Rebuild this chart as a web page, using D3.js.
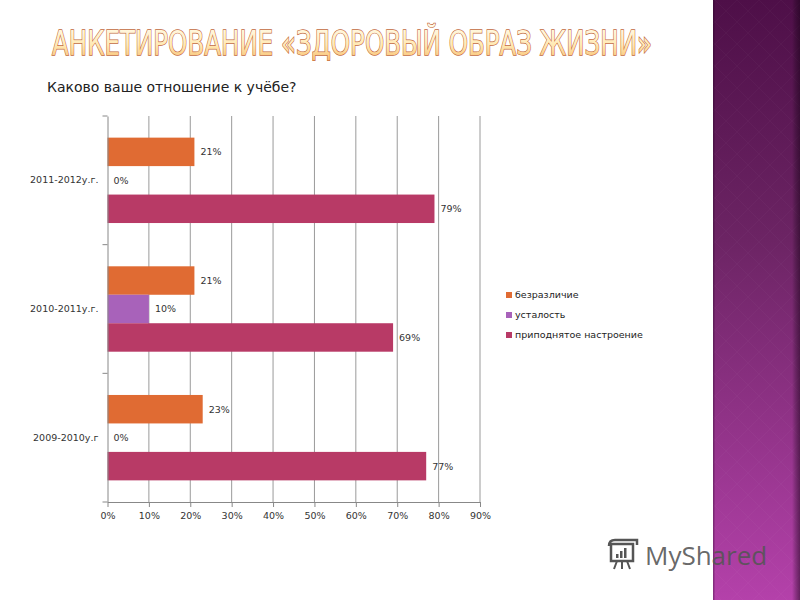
<!DOCTYPE html>
<html><head><meta charset="utf-8">
<script src="https://cdn.jsdelivr.net/npm/d3@7"></script>
<style>body{margin:0;background:#fff}svg{display:block}</style>
</head><body>
<script>
const categories = ["2011-2012у.г.", "2010-2011у.г.", "2009-2010у.г"];
const seriesNames = ["безразличие", "усталость", "приподнятое настроение"];
const seriesColors = ["#E06B33", "#A862BA", "#B83A66"];
const indifference = [21, 21, 23];
const tiredness = [0, 10, 0];
const elevated = [79, 69, 77];
const xTicks = [0, 10, 20, 30, 40, 50, 60, 70, 80, 90];
const titleText = "АНКЕТИРОВАНИЕ «ЗДОРОВЫЙ ОБРАЗ ЖИЗНИ»";
const subtitleText = "Каково ваше отношение  к учёбе?";

const W = 800, H = 600;
const svg = d3.select("body").append("svg").attr("width", W).attr("height", H);
const defs = svg.append("defs");

// right decorative panel
const pg = defs.append("linearGradient").attr("id", "panel").attr("x1", 0).attr("y1", 0).attr("x2", 0).attr("y2", 1);
pg.append("stop").attr("offset", "0%").attr("stop-color", "#4e0f48");
pg.append("stop").attr("offset", "40%").attr("stop-color", "#6c2464");
pg.append("stop").attr("offset", "100%").attr("stop-color", "#b441aa");
const pat = defs.append("pattern").attr("id", "diam").attr("width", 22).attr("height", 22).attr("patternUnits", "userSpaceOnUse");
pat.append("path").attr("d", "M11 0 L22 11 L11 22 L0 11 Z").attr("fill", "none").attr("stroke", "rgba(255,255,255,0.025)").attr("stroke-width", 1);
svg.append("rect").attr("x", 713).attr("y", 0).attr("width", 87).attr("height", H).attr("fill", "url(#panel)");
svg.append("rect").attr("x", 713).attr("y", 0).attr("width", 87).attr("height", H).attr("fill", "url(#diam)");
const eg = defs.append("linearGradient").attr("id", "edge").attr("x1", 0).attr("x2", 1);
eg.append("stop").attr("offset", "0%").attr("stop-color", "rgba(0,0,0,0)");
eg.append("stop").attr("offset", "100%").attr("stop-color", "rgba(20,0,20,0.5)");
svg.append("rect").attr("x", 792).attr("y", 0).attr("width", 8).attr("height", H).attr("fill", "url(#edge)");
svg.append("rect").attr("x", 713).attr("y", 0).attr("width", 1.5).attr("height", H).attr("fill", "rgba(30,0,30,0.3)");

// title
const tg = defs.append("linearGradient").attr("id", "tfill").attr("x1", 0).attr("y1", 0).attr("x2", 0).attr("y2", 1);
tg.append("stop").attr("offset", "0%").attr("stop-color", "#fffdf0");
tg.append("stop").attr("offset", "55%").attr("stop-color", "#ffe9b4");
tg.append("stop").attr("offset", "100%").attr("stop-color", "#f7b866");
svg.append("text").attr("x", 52).attr("y", 55).text(titleText)
  .attr("font-family", "'DejaVu Sans Condensed', 'DejaVu Sans', sans-serif").attr("font-size", 34)
  .attr("textLength", 600).attr("lengthAdjust", "spacingAndGlyphs")
  .attr("fill", "url(#tfill)").attr("stroke", "#c2683c").attr("stroke-width", 1.3)
  .attr("paint-order", "stroke");
svg.append("text").attr("x", 47).attr("y", 92).text(subtitleText)
  .attr("font-family", "'DejaVu Sans', sans-serif").attr("font-size", 14).attr("fill", "#222");

// chart
const pLeft = 107.5, pRight = 480, pTop = 116, pBottom = 502;
const x = d3.scaleLinear().domain([0, 90]).range([pLeft, pRight]);
const y = d3.scaleBand().domain(categories).range([pTop, pBottom]).paddingInner(0).paddingOuter(0);
const data = categories.map((c, i) => ({ cat: c, vals: [indifference[i], tiredness[i], elevated[i]] }));
const yIn = d3.scaleBand().domain(d3.range(3)).range([0, y.bandwidth()]).paddingOuter(0.76).paddingInner(0);

const g = svg.append("g").attr("font-family", "'DejaVu Sans', sans-serif");

// gridlines
g.append("g").selectAll("line").data(xTicks.slice(1)).join("line")
  .attr("x1", d => x(d)).attr("x2", d => x(d)).attr("y1", pTop).attr("y2", pBottom)
  .attr("stroke", "#9a9a9a").attr("stroke-width", 1);

// bars
const grp = g.append("g").selectAll("g").data(data).join("g").attr("transform", d => `translate(0,${y(d.cat)})`);
grp.selectAll("rect").data(d => d.vals).join("rect")
  .attr("x", x(0)).attr("y", (v, j) => yIn(j)).attr("height", yIn.bandwidth())
  .attr("width", v => x(v) - x(0)).attr("fill", (v, j) => seriesColors[j]);
grp.selectAll("text").data(d => d.vals).join("text")
  .attr("x", v => x(v) + 6).attr("y", (v, j) => yIn(j) + yIn.bandwidth() / 2 + 3.5)
  .text(v => v + "%").attr("font-size", 9.5).attr("fill", "#333");

// x axis
const xAxis = d3.axisBottom(x).tickValues(xTicks).tickFormat(d => d + "%").tickSize(5).tickSizeOuter(0);
const xa = g.append("g").attr("transform", `translate(0,${pBottom})`).call(xAxis);
xa.select(".domain").attr("stroke", "#888");
xa.selectAll(".tick line").attr("stroke", "#888");
xa.selectAll(".tick text").attr("font-size", 9.5).attr("fill", "#333").attr("dy", "0.95em")
  .attr("font-family", "'DejaVu Sans', sans-serif");

// y axis
const yAxis = d3.axisLeft(y).tickSize(0).tickPadding(9);
const ya = g.append("g").attr("transform", `translate(${pLeft},0)`).call(yAxis);
ya.select(".domain").attr("stroke", "#888");
ya.selectAll(".tick text").attr("font-size", 9.5).attr("fill", "#333")
  .attr("font-family", "'DejaVu Sans', sans-serif");
const bounds = [pTop, ...categories.map(c => y(c) + y.bandwidth())];
g.append("g").selectAll("line").data(bounds).join("line")
  .attr("x1", pLeft - 5).attr("x2", pLeft).attr("y1", d => d).attr("y2", d => d).attr("stroke", "#888");

// legend
const lg = g.append("g").attr("transform", "translate(506,298)");
const li = lg.selectAll("g").data(seriesNames).join("g").attr("transform", (d, i) => `translate(0,${i * 20})`);
li.append("rect").attr("x", 0).attr("y", -6).attr("width", 6).attr("height", 6).attr("fill", (d, i) => seriesColors[i]);
li.append("text").attr("x", 9).attr("y", 0).text(d => d).attr("font-size", 9.5).attr("fill", "#222");

// watermark logo
const logo = svg.append("g").attr("transform", "translate(607,538)");
logo.append("rect").attr("x", 4).attr("y", 6).attr("width", 22).attr("height", 17).attr("fill", "none").attr("stroke", "#555").attr("stroke-width", 2.5);
logo.append("path").attr("d", "M2 8 Q2 2 8 2 L30 2 L30 7").attr("fill", "none").attr("stroke", "#555").attr("stroke-width", 2.5);
logo.selectAll(".b").data([4, 7, 10]).join("rect").attr("x", (d, i) => 9 + i * 4).attr("y", d => 20 - d).attr("width", 2.5).attr("height", d => d).attr("fill", "#555");
logo.append("path").attr("d", "M10 23 L7 31 M15 23 L15 31 M20 23 L23 31").attr("stroke", "#555").attr("stroke-width", 2);
logo.append("text").attr("x", 38).attr("y", 27).text("MyShared").attr("font-family", "'Open Sans', sans-serif").attr("font-size", 26).attr("fill", "#555").attr("fill-opacity", 0.9);
</script>
</body></html>
